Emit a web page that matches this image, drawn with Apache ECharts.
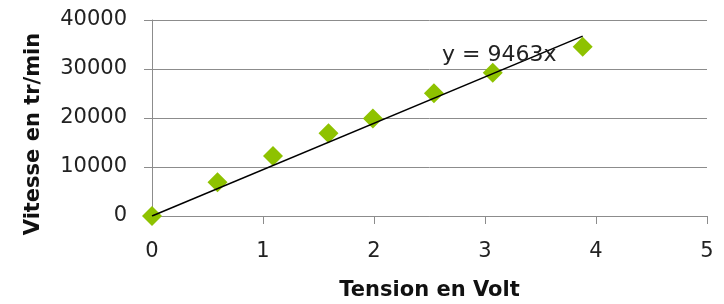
<!DOCTYPE html>
<html>
<head>
<meta charset="utf-8">
<script src="https://cdn.jsdelivr.net/npm/echarts@6/dist/echarts.min.js"></script>
<style>
  html, body { margin: 0; padding: 0; background: #fff; }
  #chart { width: 724px; height: 304px; }
</style>
</head>
<body>
<div id="chart"></div>
<script>
// mesures : tension (V) et vitesse (tr/min)
const tension = [0, 0.59, 1.09, 1.59, 1.99, 2.54, 3.07, 3.88];
const vitesse = [0, 6900, 12250, 16900, 19900, 25050, 29250, 34550];
const slope = 9463;
const trendX = [0, 3.88];
const xTicks = [0, 1, 2, 3, 4, 5];
const yTicks = [0, 10000, 20000, 30000, 40000];

const font = "DejaVu Sans";
const gray = "#8c8c8c";

const chart = echarts.init(document.getElementById('chart'));

const points = tension.map((t, i) => [t, vitesse[i]]);
const trend = trendX.map(t => [t, slope * t]);

const option = {
  animation: false,
  grid: { left: 152, right: 17, top: 20, bottom: 88, outerBoundsMode: 'none' },
  xAxis: {
    type: 'value',
    min: xTicks[0],
    max: xTicks[xTicks.length - 1],
    interval: 1,
    name: 'Tension en Volt',
    nameLocation: 'middle',
    nameGap: 64,
    nameTextStyle: { fontFamily: font, fontWeight: 'bold', fontSize: 21, color: '#111' },
    axisLine: { show: true, lineStyle: { color: gray, width: 1 } },
    axisTick: { show: true, length: 8, lineStyle: { color: gray } },
    axisLabel: { margin: 25, fontFamily: font, fontSize: 21, color: '#222' },
    splitLine: { show: false }
  },
  yAxis: {
    type: 'value',
    min: yTicks[0],
    max: yTicks[yTicks.length - 1],
    interval: 10000,
    name: 'Vitesse en tr/min',
    nameLocation: 'middle',
    nameGap: 108,
    nameTextStyle: { fontFamily: font, fontWeight: 'bold', fontSize: 21, color: '#111', padding: [0, 32, 0, 0] },
    axisLine: { show: true, lineStyle: { color: gray, width: 1 } },
    axisTick: { show: true, length: 8, lineStyle: { color: gray } },
    axisLabel: { margin: 25, fontFamily: font, fontSize: 21, color: '#222', formatter: v => String(v) },
    splitLine: { show: true, lineStyle: { color: gray, width: 1 } }
  },
  series: [
    {
      name: 'mesures',
      type: 'scatter',
      symbol: 'diamond',
      symbolSize: 20,
      itemStyle: { color: '#8ec200', opacity: 1 },
      data: points,
      z: 2
    },
    {
      name: 'tendance',
      type: 'line',
      showSymbol: false,
      symbol: 'none',
      lineStyle: { color: '#000', width: 1.5 },
      data: trend,
      z: 3
    }
  ],
  graphic: [
    {
      type: 'text',
      left: 442,
      top: 44,
      style: { text: 'y = 9463x', fontFamily: font, fontSize: 22, fill: '#222' },
      z: 10
    }
  ]
};

chart.setOption(option);
</script>
</body>
</html>
